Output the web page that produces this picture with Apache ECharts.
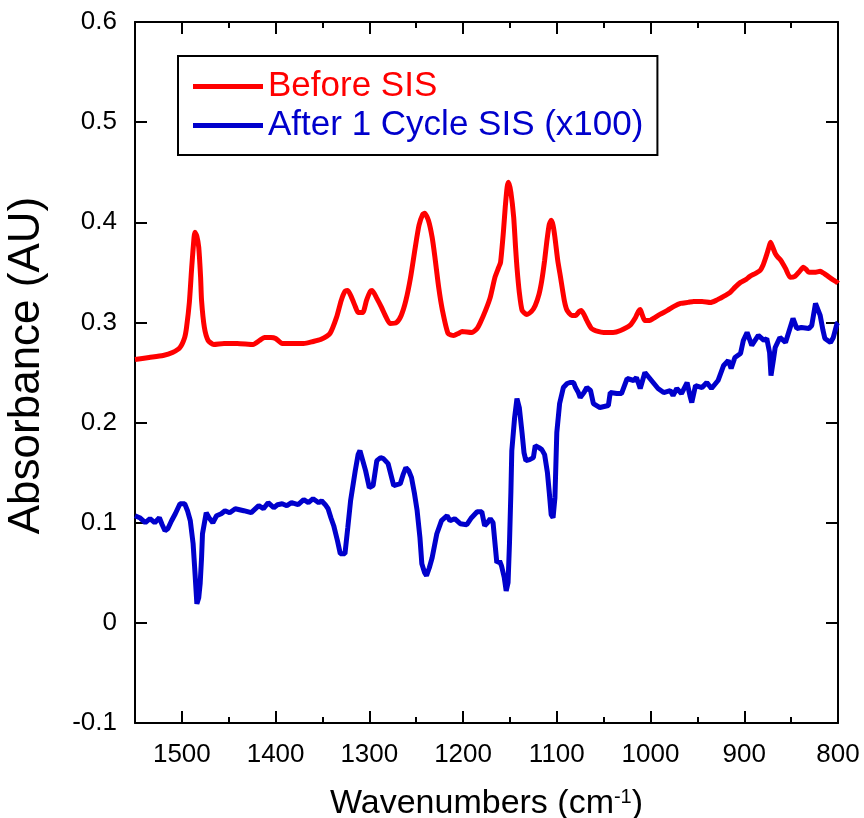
<!DOCTYPE html>
<html>
<head>
<meta charset="utf-8">
<script src="https://cdn.jsdelivr.net/npm/echarts@6/dist/echarts.min.js"></script>
<style>
  html, body { margin: 0; padding: 0; background: #fff; }
  #chart { width: 864px; height: 818px; }
</style>
</head>
<body>
<div id="chart"></div>
<script>
// ---- Data ----
const seriesNames = ['Before SIS', 'After 1 Cycle SIS (x100)'];

const beforeWavenumbers = [1550,1535,1520,1510,1502,1497,1495,1492,1489.5,1487,1486,1484,1482,1480,1479,1476,1472,1466,1455,1441,1424,1417,1412,1405,1400,1393,1380,1370,1360,1352,1342,1335,1330,1326,1323,1319,1315,1312,1307,1303,1299,1297,1292,1287,1282,1278,1271,1266,1261,1256,1251,1247,1243,1241,1237,1233,1230,1226,1222,1216,1210,1205,1201,1191,1185,1182,1176,1171,1166,1162,1160,1157,1155,1153,1151.5,1149,1146,1144,1142.5,1140,1137,1132,1127,1123,1119,1116,1113,1110.5,1108,1106,1104,1102,1099,1096,1092,1089,1084,1080,1076,1074,1071,1068,1063,1056,1050,1040,1032,1022,1016,1013,1011,1009,1006,1001,997,990,982,975,968,960,954,945,936,930,926,920,915,910,904,898,894,888,883,880,877,874,872,870,867,864,861,856,851,846,841,837,834,831,825,819,815,812,806,801,800];
const beforeAbsorbance = [0.263,0.265,0.267,0.270,0.275,0.285,0.295,0.320,0.355,0.385,0.390,0.386,0.375,0.345,0.322,0.295,0.282,0.278,0.279,0.279,0.278,0.282,0.285,0.285,0.284,0.279,0.279,0.279,0.281,0.283,0.289,0.305,0.322,0.331,0.332,0.325,0.316,0.310,0.310,0.322,0.331,0.332,0.324,0.315,0.305,0.299,0.300,0.307,0.322,0.345,0.375,0.397,0.408,0.409,0.402,0.385,0.365,0.335,0.312,0.289,0.287,0.289,0.291,0.290,0.294,0.299,0.312,0.325,0.345,0.355,0.360,0.390,0.415,0.435,0.440,0.430,0.405,0.375,0.355,0.330,0.312,0.308,0.311,0.317,0.328,0.342,0.362,0.382,0.398,0.402,0.397,0.385,0.362,0.345,0.322,0.312,0.307,0.307,0.311,0.312,0.308,0.302,0.294,0.291,0.290,0.290,0.292,0.297,0.305,0.311,0.313,0.308,0.302,0.302,0.304,0.308,0.312,0.316,0.319,0.320,0.321,0.321,0.320,0.322,0.324,0.327,0.330,0.335,0.340,0.343,0.346,0.349,0.352,0.357,0.365,0.374,0.380,0.376,0.369,0.365,0.362,0.354,0.345,0.346,0.351,0.355,0.353,0.350,0.350,0.351,0.349,0.347,0.343,0.340,0.339];

const afterWavenumbers = [1550,1545,1539,1534,1529,1524,1521,1518,1515,1511,1507,1502,1497,1494,1491,1488,1486,1484,1482,1480.5,1479,1478,1474,1471,1467,1463,1458,1454,1449,1443,1434,1426,1418,1413,1408,1402,1398,1393,1388,1383,1376,1370,1365,1360,1354,1351,1347,1344,1341,1338,1334,1331,1326,1323,1320,1317,1315,1312,1310,1307,1304,1300,1296,1292,1288,1285,1280,1277,1274,1267,1264,1261,1258,1255,1252,1249,1246,1244,1241,1239,1236,1233,1228,1223,1217,1214,1209,1203,1196,1191,1185,1180,1177,1174,1171,1168,1166,1164,1161,1159,1156,1154,1152,1150.5,1149,1148,1145,1142.5,1140,1137,1135,1133,1129,1125,1123,1119,1116,1113,1110,1108,1106,1104,1102,1100,1097,1093,1089,1086,1082,1080,1077,1075,1071,1068,1064,1061,1054,1045,1043,1036,1031,1025,1018,1015,1011,1006,999,992,986,979,976,972,967,961,958,956,952,945,940,935,928,922,917,914,910,904,901,897,892,885,879,876,873,871.5,869,867,862,856,853,848,844,839,831,828,824,819,816,814,808,805,801,800];
const afterAbsorbance = [0.107,0.105,0.100,0.104,0.100,0.105,0.098,0.092,0.094,0.102,0.109,0.119,0.119,0.112,0.102,0.079,0.050,0.019,0.025,0.039,0.065,0.089,0.110,0.105,0.100,0.107,0.109,0.112,0.110,0.114,0.112,0.110,0.117,0.114,0.120,0.115,0.118,0.119,0.117,0.120,0.118,0.123,0.120,0.124,0.120,0.122,0.118,0.114,0.105,0.097,0.082,0.069,0.069,0.095,0.122,0.140,0.152,0.168,0.172,0.162,0.152,0.135,0.137,0.162,0.165,0.164,0.159,0.148,0.137,0.139,0.148,0.155,0.152,0.145,0.130,0.112,0.085,0.059,0.050,0.047,0.055,0.065,0.089,0.102,0.107,0.102,0.104,0.099,0.098,0.105,0.111,0.111,0.097,0.100,0.104,0.100,0.080,0.060,0.062,0.057,0.045,0.032,0.040,0.079,0.130,0.172,0.205,0.224,0.215,0.189,0.170,0.162,0.163,0.165,0.177,0.175,0.173,0.168,0.150,0.130,0.108,0.105,0.125,0.190,0.219,0.235,0.239,0.240,0.240,0.235,0.230,0.225,0.230,0.235,0.232,0.219,0.215,0.217,0.230,0.229,0.229,0.244,0.242,0.245,0.234,0.250,0.242,0.234,0.230,0.232,0.227,0.234,0.229,0.240,0.227,0.220,0.237,0.235,0.240,0.234,0.242,0.257,0.262,0.254,0.265,0.269,0.282,0.290,0.277,0.287,0.282,0.284,0.270,0.247,0.262,0.275,0.285,0.280,0.289,0.304,0.294,0.295,0.294,0.297,0.319,0.307,0.292,0.284,0.280,0.285,0.299,0.300];

const xTickValues = [1500, 1400, 1300, 1200, 1100, 1000, 900, 800];
const yTickValues = [-0.1, 0, 0.1, 0.2, 0.3, 0.4, 0.5, 0.6];

// ---- Chart ----
const FONT = '"Liberation Sans", Arial, sans-serif';
const RED = '#FF0000';
const BLUE = '#0000CC';

function zip(xs, ys) { return xs.map((x, i) => [x, ys[i]]); }

const chart = echarts.init(document.getElementById('chart'), null, { renderer: 'canvas' });

const axisLine = { show: true, onZero: false, lineStyle: { color: '#000', width: 2 } };
const majorTick = { show: true, inside: true, length: 12, lineStyle: { color: '#000', width: 2 } };
const minorTick = { show: true, splitNumber: 2, length: 6, lineStyle: { color: '#000', width: 2 } };

const xBase = { type: 'value', min: 800, max: 1550, interval: 100, inverse: true,
  splitLine: { show: false }, minorSplitLine: { show: false },
  axisLine: axisLine, axisTick: majorTick, minorTick: minorTick };
const yBase = { type: 'value', min: -0.1, max: 0.6, interval: 0.1,
  splitLine: { show: false },
  axisLine: axisLine, axisTick: majorTick };

chart.setOption({
  animation: false,
  backgroundColor: '#fff',
  textStyle: { fontFamily: FONT },
  grid: { left: 135, right: 26, top: 22, bottom: 95, containLabel: false, outerBoundsMode: 'none' },
  legend: {
    orient: 'vertical', left: 178, top: 56,
    padding: [13, 14, 12, 15],
    borderColor: '#000', borderWidth: 2, borderRadius: 0,
    backgroundColor: '#fff',
    icon: 'rect',
    itemWidth: 70, itemHeight: 5, itemGap: 4,
    selectedMode: false,
    data: [
      { name: seriesNames[0], textStyle: { color: RED } },
      { name: seriesNames[1], textStyle: { color: BLUE } }
    ],
    textStyle: { fontSize: 35, fontFamily: FONT }
  },
  xAxis: [
    Object.assign({}, xBase, {
      position: 'bottom',
      name: 'Wavenumbers (cm{sup|-1})',
      nameLocation: 'middle', nameGap: 64,
      nameTextStyle: { fontSize: 34, color: '#000', fontFamily: FONT,
        rich: { sup: { fontSize: 20, color: '#000', fontFamily: FONT, verticalAlign: 'top', padding: [0, 0, 14, 0] } } },
      axisLabel: { show: true, color: '#000', fontSize: 26, fontFamily: FONT, margin: 19,
        showMaxLabel: false,
        formatter: function (v) { return xTickValues.indexOf(v) >= 0 ? String(v) : ''; } }
    }),
    Object.assign({}, xBase, { position: 'top', axisLabel: { show: false } })
  ],
  yAxis: [
    Object.assign({}, yBase, {
      position: 'left',
      name: 'Absorbance (AU)',
      nameLocation: 'middle', nameGap: 86,
      nameTextStyle: { fontSize: 44, color: '#000', fontFamily: FONT, padding: [0, 0, 0, 14] },
      axisLabel: { show: true, color: '#000', fontSize: 26, fontFamily: FONT, margin: 18,
        formatter: function (v) {
          const r = Math.round(v * 10) / 10;
          return yTickValues.indexOf(r) >= 0 ? String(r) : '';
        } }
    }),
    Object.assign({}, yBase, { position: 'right', axisLabel: { show: false } })
  ],
  series: [
    { name: seriesNames[0], type: 'line', xAxisIndex: 0, yAxisIndex: 0,
      data: zip(beforeWavenumbers, beforeAbsorbance),
      symbol: 'none', smooth: 0.2,
      lineStyle: { color: RED, width: 5 }, itemStyle: { color: RED } },
    { name: seriesNames[1], type: 'line', xAxisIndex: 0, yAxisIndex: 0,
      data: zip(afterWavenumbers, afterAbsorbance),
      symbol: 'none', smooth: false,
      lineStyle: { color: BLUE, width: 5 }, itemStyle: { color: BLUE } }
  ]
});
</script>
</body>
</html>
